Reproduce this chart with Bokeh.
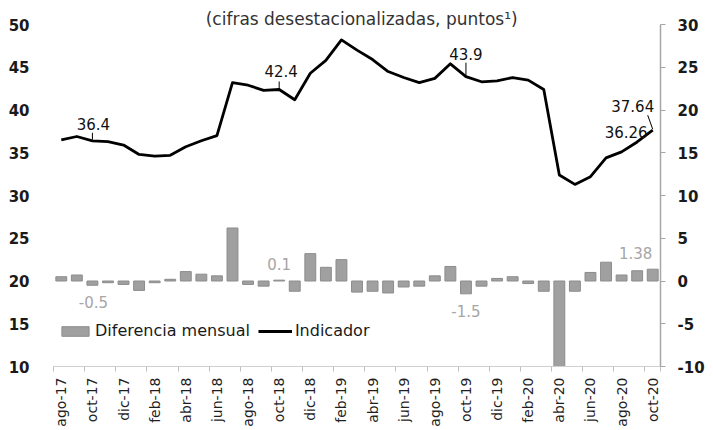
import numpy as np
from bokeh.plotting import figure
from bokeh.models import (Range1d, LinearAxis, FixedTicker, ColumnDataSource,
                          LabelSet, Label, Legend, LegendItem)
from bokeh.core.properties import value
from bokeh.embed import file_html
from bokeh.resources import INLINE

# ---------------- data ----------------
months = ["ago-17", "sep-17", "oct-17", "nov-17", "dic-17", "ene-18", "feb-18", "mar-18",
          "abr-18", "may-18", "jun-18", "jul-18", "ago-18", "sep-18", "oct-18", "nov-18",
          "dic-18", "ene-19", "feb-19", "mar-19", "abr-19", "may-19", "jun-19", "jul-19",
          "ago-19", "sep-19", "oct-19", "nov-19", "dic-19", "ene-20", "feb-20", "mar-20",
          "abr-20", "may-20", "jun-20", "jul-20", "ago-20", "sep-20", "oct-20"]

indicador = [36.5, 36.9, 36.4, 36.3, 35.9, 34.8, 34.6, 34.7, 35.7, 36.4, 37.0, 43.2,
             42.9, 42.3, 42.4, 41.2, 44.3, 45.8, 48.2, 47.0, 45.9, 44.5, 43.8, 43.2,
             43.7, 45.4, 43.9, 43.3, 43.4, 43.8, 43.5, 42.4, 32.4, 31.3, 32.2, 34.4,
             35.1, 36.26, 37.64]

diferencia = [0.5, 0.7, -0.5, -0.2, -0.4, -1.1, -0.2, 0.2, 1.1, 0.8, 0.6, 6.2,
              -0.4, -0.6, 0.1, -1.2, 3.2, 1.6, 2.5, -1.3, -1.2, -1.4, -0.7, -0.6,
              0.6, 1.7, -1.5, -0.6, 0.3, 0.5, -0.3, -1.2, -10.0, -1.2, 1.0, 2.2,
              0.7, 1.2, 1.38]

left_ticks = [10, 15, 20, 25, 30, 35, 40, 45, 50]
right_ticks = [-10, -5, 0, 5, 10, 15, 20, 25, 30]
right_tick_labels = ["-10", "-5", "0", "5", "10", "15", "20", "25", "30"]

line_label_idx = [2, 14, 26, 37, 38]
line_label_txt = ["36.4", "42.4", "43.9", "36.26", "37.64"]
bar_label_idx = [2, 14, 26, 38]
bar_label_txt = ["-0.5", "0.1", "-1.5", "1.38"]

title_txt = "(cifras desestacionalizadas, puntos\u00b9)"
legend_bar = "Diferencia mensual"
legend_line = "Indicador"

# ---------------- style ----------------
FONT = "DejaVu Sans"
W, H = 712, 429
BL, BR, BT, BB = 53, 52, 0, 63
FRAME_H = H - BT - BB
FRAME_W = W - BL - BR
Y_TOP = 10 + FRAME_H / 8.55
PX = (Y_TOP - 10) / FRAME_H          # data units per pixel (left axis)
XPX = len(months) / FRAME_W          # category units per pixel
idx = list(range(len(months)))

p = figure(width=W, height=H, output_backend="svg", toolbar_location=None,
           x_range=Range1d(-0.5, len(months) - 0.5), y_range=Range1d(10, Y_TOP),
           min_border_left=BL, min_border_right=BR, min_border_top=BT,
           min_border_bottom=BB, background_fill_color="white",
           border_fill_color="white")
p.outline_line_color = None
p.grid.grid_line_color = None
p.extra_y_ranges = {"right": Range1d(-10, Y_TOP - 20)}

# bars
bars = p.vbar(x=idx, top=diferencia, bottom=0, width=0.7, y_range_name="right",
              fill_color="#a0a0a0", line_color="#8c8c8c", line_width=1)
# line
line = p.line(idx, indicador, line_color="black", line_width=2.8, line_join="round")

# x axis
xa = p.xaxis[0]
xa.ticker = FixedTicker(ticks=idx[::2], minor_ticks=[i - 0.5 for i in idx[::2]] + [len(months) - 0.5])
xa.major_label_overrides = {i: months[i] for i in idx[::2]}
xa.major_label_orientation = np.pi / 2
xa.major_tick_out = 0
xa.major_tick_in = 0
xa.minor_tick_out = 5
xa.minor_tick_in = 0
xa.minor_tick_line_color = "#bfbfbf"
xa.axis_line_color = "#d0d0d0"
xa.major_label_standoff = 6
xa.major_label_text_font = FONT
xa.major_label_text_font_size = "14px"
xa.major_label_text_color = "#1f1f1f"

# left axis
ya = p.yaxis[0]
ya.ticker = FixedTicker(ticks=left_ticks)
ya.axis_line_color = None
ya.major_tick_line_color = None
ya.minor_tick_line_color = None
ya.major_label_standoff = 18
ya.major_label_text_font = FONT
ya.major_label_text_font_size = "15px"
ya.major_label_text_font_style = "bold"
ya.major_label_text_color = "#1a1a1a"

# right axis
ra = LinearAxis(y_range_name="right", ticker=FixedTicker(ticks=right_ticks),
                bounds=(-10, 30))
ra.major_label_overrides = dict(zip(right_ticks, right_tick_labels))
ra.axis_line_color = "#a6a6a6"
ra.axis_line_width = 1.5
ra.major_tick_line_color = "#a6a6a6"
ra.major_tick_out = 5
ra.major_tick_in = 0
ra.minor_tick_line_color = None
ra.major_label_standoff = 12
ra.major_label_text_font = FONT
ra.major_label_text_font_size = "15px"
ra.major_label_text_font_style = "bold"
ra.major_label_text_color = "#1a1a1a"
p.add_layout(ra, "right")

# line data labels
ll_src = ColumnDataSource(dict(
    x=line_label_idx,
    y=[indicador[i] for i in line_label_idx],
    text=line_label_txt,
    xo=[1, 2, 0, -11, -20],
    yo=[17, 18, 23, 10, 24],
))
p.add_layout(LabelSet(x="x", y="y", text="text", x_offset="xo", y_offset="yo",
                      source=ll_src, text_align="center", text_baseline="middle",
                      text_font=value(FONT), text_font_size=value("15px"),
                      text_color="#111111"))

# leader lines
lead_x0 = [2, 14, 26, 38 - 5 * XPX]
lead_y0 = [indicador[2] + 8 * PX, indicador[14] + 8 * PX, indicador[26] + 14 * PX, indicador[38] + 15 * PX]
lead_x1 = [2, 14, 26, 38]
lead_y1 = [indicador[2] + 1 * PX, indicador[14] + 0 * PX, indicador[26] + 1 * PX, indicador[38] + 1 * PX]
p.segment(lead_x0, lead_y0, lead_x1, lead_y1, line_color="black", line_width=1)

# bar data labels
bl_src = ColumnDataSource(dict(
    x=bar_label_idx,
    y=[diferencia[i] for i in bar_label_idx],
    text=bar_label_txt,
    xo=[1, 0, 0, -17],
    yo=[-17 if diferencia[i] < 0 else 16 for i in bar_label_idx],
))
p.add_layout(LabelSet(x="x", y="y", text="text", x_offset="xo", y_offset="yo",
                      y_range_name="right", source=bl_src, text_align="center",
                      text_baseline="middle", text_font=value(FONT),
                      text_font_size=value("15px"), text_color="#a6a6a6"))

# title text
p.add_layout(Label(x=19.3, y=50.7, text=title_txt, text_align="center",
                   text_baseline="middle", text_font=FONT, text_font_size="17px",
                   text_color="#333333"))

# legend
legend = Legend(items=[LegendItem(label=legend_bar, renderers=[bars]),
                       LegendItem(label=legend_line, renderers=[line])],
                location=(5, 26), orientation="horizontal",
                glyph_width=34, glyph_height=12, label_standoff=3, spacing=8,
                padding=0, margin=0, border_line_color=None,
                background_fill_alpha=0, label_text_font=FONT,
                label_text_font_size="16px", label_text_color="#1a1a1a")
p.add_layout(legend)

open("out.html", "w").write(file_html(p, INLINE))
